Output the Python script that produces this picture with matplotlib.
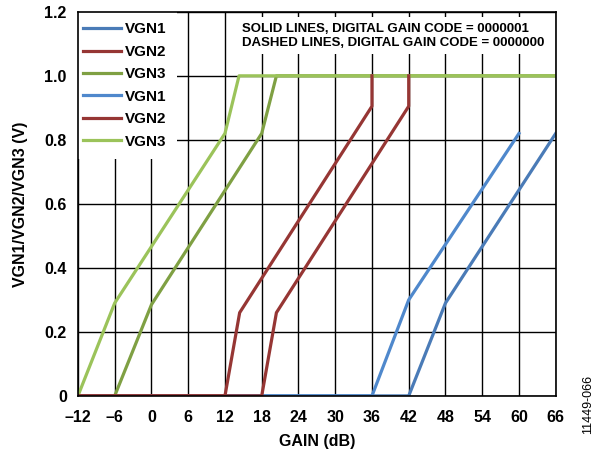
import matplotlib
matplotlib.use("Agg")
import matplotlib.pyplot as plt

plt.rcParams['font.family'] = ['Liberation Sans', 'DejaVu Sans']
plt.rcParams['font.weight'] = 'bold'

# Data: gain (dB) vs output voltage (V)
solid_vgn1_gain = [-12, 42, 48, 66]
solid_vgn1_v = [0, 0, 0.29, 0.82]
solid_vgn2_gain = [-12, 18, 20.4, 42, 42]
solid_vgn2_v = [0, 0, 0.26, 0.905, 1.0]
solid_vgn3_gain = [-6, 0, 18, 20.4, 66]
solid_vgn3_v = [0, 0.285, 0.82, 1.0, 1.0]

dashed_vgn1_gain = [-12, 36, 42, 60]
dashed_vgn1_v = [0, 0, 0.30, 0.82]
dashed_vgn2_gain = [-12, 12, 14.4, 36, 36]
dashed_vgn2_v = [0, 0, 0.26, 0.905, 1.0]
dashed_vgn3_gain = [-12, -6, 12, 14.3, 66]
dashed_vgn3_v = [0, 0.29, 0.82, 1.0, 1.0]

x_ticks = [-12, -6, 0, 6, 12, 18, 24, 30, 36, 42, 48, 54, 60, 66]
x_labels = ['–12', '–6', '0', '6', '12', '18', '24', '30', '36', '42', '48', '54', '60', '66']
y_ticks = [0, 0.2, 0.4, 0.6, 0.8, 1.0, 1.2]
y_labels = ['0', '0.2', '0.4', '0.6', '0.8', '1.0', '1.2']

fig = plt.figure(figsize=(5.95, 4.54), dpi=100)
ax = fig.add_axes([0.131, 0.128, 0.803, 0.846])

lw = 2.3
c_blue1 = '#4a7bb7'
c_blue2 = '#4f88cc'
c_red = '#963634'
c_green1 = '#7fa043'
c_green2 = '#9bc35a'

l1, = ax.plot(solid_vgn1_gain, solid_vgn1_v, color=c_blue1, lw=lw, zorder=3, label='VGN1')
l4, = ax.plot(dashed_vgn1_gain, dashed_vgn1_v, color=c_blue2, lw=lw, zorder=3, label='VGN1')
l3, = ax.plot(solid_vgn3_gain, solid_vgn3_v, color=c_green1, lw=lw, zorder=4, label='VGN3')
l6, = ax.plot(dashed_vgn3_gain, dashed_vgn3_v, color=c_green2, lw=lw, zorder=4, label='VGN3')
l2, = ax.plot(solid_vgn2_gain, solid_vgn2_v, color=c_red, lw=lw, zorder=5, label='VGN2')
l5, = ax.plot(dashed_vgn2_gain, dashed_vgn2_v, color=c_red, lw=lw, zorder=5, label='VGN2')

ax.set_xlim(-12, 66)
ax.set_ylim(0, 1.2)
ax.set_xticks(x_ticks)
ax.set_xticklabels(x_labels)
ax.set_yticks(y_ticks)
ax.set_yticklabels(y_labels)
ax.tick_params(length=0, labelsize=11.5)
ax.tick_params(axis='x', pad=10.5)
ax.tick_params(axis='y', pad=8)
ax.grid(True, color='black', lw=1.0, zorder=1)
ax.set_axisbelow(True)
for s in ax.spines.values():
    s.set_color('black')
    s.set_linewidth(1.2)
    s.set_zorder(10)

ax.set_xlabel('GAIN (dB)', fontsize=11.5, fontweight='bold', labelpad=6)
ax.set_ylabel('VGN1/VGN2/VGN3 (V)', fontsize=11.5, fontweight='bold', labelpad=12)

leg = ax.legend([l1, l2, l3, l4, l5, l6], ['VGN1', 'VGN2', 'VGN3', 'VGN1', 'VGN2', 'VGN3'],
                loc='upper left', bbox_to_anchor=(-0.0126, 1.0), fontsize=11,
                frameon=True, fancybox=False,
                framealpha=1.0, edgecolor='none', facecolor='white',
                handlelength=2.5, handletextpad=0.28, labelspacing=0.55,
                borderaxespad=0.0, borderpad=0.7)
leg.set_zorder(8)

ax.text(0.343, 0.972,
        'SOLID LINES, DIGITAL GAIN CODE = 0000001\nDASHED LINES, DIGITAL GAIN CODE = 0000000',
        transform=ax.transAxes, fontsize=9.5, fontweight='bold', va='top', ha='left',
        linespacing=1.25, zorder=9,
        bbox=dict(facecolor='white', edgecolor='none', pad=4))

fig.text(0.988, 0.11, '11449-066', rotation=90, fontsize=9, fontweight='normal',
         ha='center', va='center')

fig.savefig('out.png', dpi=100, facecolor='white')
